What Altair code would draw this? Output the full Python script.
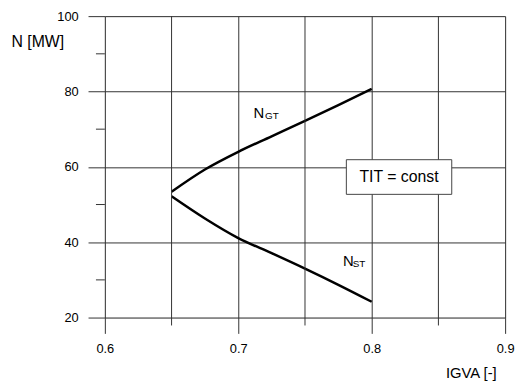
import altair as alt
import pandas as pd

# ---- data ----
igva = [0.65, 0.675, 0.7, 0.725, 0.75, 0.775, 0.8]
n_gt = [53.4, 59.3, 64.0, 68.1, 72.2, 76.4, 80.7]
n_st = [52.2, 46.3, 41.1, 37.1, 33.0, 28.7, 24.2]

x_major = [0.6, 0.7, 0.8, 0.9]
x_minor = [0.65, 0.75, 0.85]
y_major = [20, 40, 60, 80, 100]
y_minor = [30, 50, 70, 90]

# annotation texts and their anchor positions (data units)
main_texts = ["N", "N"]
main_x = [0.7115, 0.7785]
main_y = [73.0, 33.65]
sub_texts = ["GT", "ST"]
sub_x = [0.7200, 0.7858]
sub_y = [72.8, 33.4]

box_text = "TIT = const"
box_x = [0.781, 0.860]
box_y = [52.7, 61.9]

FONT = "Liberation Sans"
GRID = "#333333"
W, H = 405, 305

xscale = alt.Scale(domain=[0.6, 0.9], nice=False, zero=False)
yscale = alt.Scale(domain=[20, 100], nice=False, zero=False)

df = pd.DataFrame({
    "igva": igva + igva,
    "n": n_gt + n_st,
    "series": ["GT"] * len(igva) + ["ST"] * len(igva),
})

x_axis = alt.Axis(
    values=x_major, format=".1f", grid=True, gridColor=GRID, gridWidth=1,
    domain=False, tickSize=16, tickColor=GRID, tickWidth=1, labelFlush=False,
    labelPadding=9, labelFontSize=13, labelFont=FONT, labelColor="#000",
    title="IGVA [-]", titleFont=FONT, titleFontSize=15, titleFontWeight="normal",
    titleColor="#000", titleAlign="right", titleBaseline="middle",
    titleX=396, titleY=56,
)
y_axis = alt.Axis(
    values=y_major, format="d", grid=True, gridColor=GRID, gridWidth=1,
    domain=False, tickSize=17, tickColor=GRID, tickWidth=1, labelFlush=False,
    labelPadding=10, labelFontSize=13, labelFont=FONT, labelColor="#000",
    title="N [MW]", titleFont=FONT, titleFontSize=16, titleFontWeight="normal",
    titleColor="#000", titleAngle=0, titleAlign="left", titleBaseline="middle",
    titleX=-95, titleY=26,
)

# minor vertical grid lines with their short ticks below the plot
xminor_df = pd.DataFrame({"x": x_minor})
xminor = alt.Chart(xminor_df).mark_rule(color=GRID, strokeWidth=1).encode(
    x=alt.X("x:Q", scale=xscale),
    y=alt.value(0), y2=alt.value(H + 8),
)
# minor y ticks (no grid)
yminor_df = pd.DataFrame({"y": y_minor})
yminor = alt.Chart(yminor_df).mark_rule(color=GRID, strokeWidth=1).encode(
    y=alt.Y("y:Q", scale=yscale),
    x=alt.value(-9), x2=alt.value(0),
)

curves = alt.Chart(df).mark_line(
    color="black", strokeWidth=2.5, interpolate="monotone"
).encode(
    x=alt.X("igva:Q", scale=xscale, axis=x_axis),
    y=alt.Y("n:Q", scale=yscale, axis=y_axis),
    detail="series:N",
)

box_df = pd.DataFrame({
    "x": [box_x[0]], "x2": [box_x[1]], "y": [box_y[0]], "y2": [box_y[1]],
    "xc": [(box_x[0] + box_x[1]) / 2], "yc": [(box_y[0] + box_y[1]) / 2],
    "t": [box_text],
})
box = alt.Chart(box_df).mark_rect(
    fill="white", stroke="#444444", strokeWidth=1
).encode(
    x=alt.X("x:Q", scale=xscale), x2="x2:Q",
    y=alt.Y("y:Q", scale=yscale), y2="y2:Q",
)
box_label = alt.Chart(box_df).mark_text(
    font=FONT, fontSize=16, color="black", align="center", baseline="middle"
).encode(
    x=alt.X("xc:Q", scale=xscale), y=alt.Y("yc:Q", scale=yscale), text="t:N"
)

main_df = pd.DataFrame({"x": main_x, "y": main_y, "t": main_texts})
sub_df = pd.DataFrame({"x": sub_x, "y": sub_y, "t": sub_texts})
main_lbl = alt.Chart(main_df).mark_text(
    font=FONT, fontSize=15, color="black", align="left", baseline="alphabetic"
).encode(
    x=alt.X("x:Q", scale=xscale), y=alt.Y("y:Q", scale=yscale), text="t:N"
)
sub_lbl = alt.Chart(sub_df).mark_text(
    font=FONT, fontSize=10, color="black", align="left", baseline="alphabetic"
).encode(
    x=alt.X("x:Q", scale=xscale), y=alt.Y("y:Q", scale=yscale), text="t:N"
)

chart = alt.layer(
    curves, xminor, yminor, box, box_label, main_lbl, sub_lbl
).properties(
    width=W, height=H,
    autosize=alt.AutoSizeParams(type="none"),
    padding={"left": 98, "top": 6, "right": 10, "bottom": 66},
).configure_view(
    stroke=None
).configure(
    background="white"
)

chart.save("out.html", embed_options={"renderer": "svg", "actions": False})
